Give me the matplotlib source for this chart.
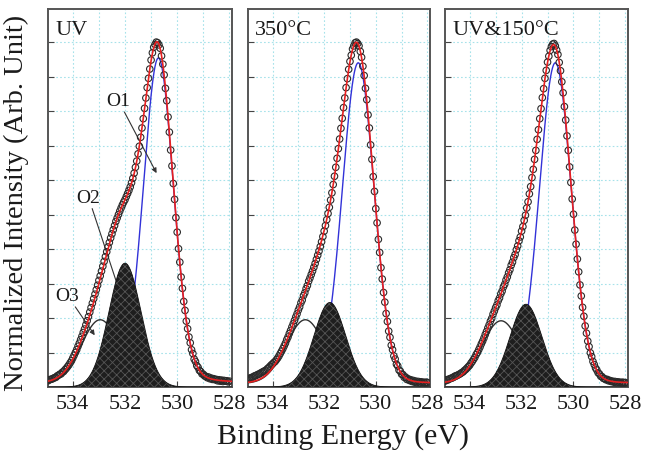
import numpy as np
import matplotlib
matplotlib.use('Agg')
import matplotlib.pyplot as plt

plt.rcParams['font.family'] = ['Liberation Serif', 'DejaVu Serif']
plt.rcParams['hatch.linewidth'] = 0.6

# O 1s binding energies of the scan (eV)
energy = [
    535.00, 534.95, 534.90, 534.85, 534.80, 534.75, 534.70, 534.65, 534.60, 534.55,
    534.50, 534.45, 534.40, 534.35, 534.30, 534.25, 534.20, 534.15, 534.10, 534.05,
    534.00, 533.95, 533.90, 533.85, 533.80, 533.75, 533.70, 533.65, 533.60, 533.55,
    533.50, 533.45, 533.40, 533.35, 533.30, 533.25, 533.20, 533.15, 533.10, 533.05,
    533.00, 532.95, 532.90, 532.85, 532.80, 532.75, 532.70, 532.65, 532.60, 532.55,
    532.50, 532.45, 532.40, 532.35, 532.30, 532.25, 532.20, 532.15, 532.10, 532.05,
    532.00, 531.95, 531.90, 531.85, 531.80, 531.75, 531.70, 531.65, 531.60, 531.55,
    531.50, 531.45, 531.40, 531.35, 531.30, 531.25, 531.20, 531.15, 531.10, 531.05,
    531.00, 530.95, 530.90, 530.85, 530.80, 530.75, 530.70, 530.65, 530.60, 530.55,
    530.50, 530.45, 530.40, 530.35, 530.30, 530.25, 530.20, 530.15, 530.10, 530.05,
    530.00, 529.95, 529.90, 529.85, 529.80, 529.75, 529.70, 529.65, 529.60, 529.55,
    529.50, 529.45, 529.40, 529.35, 529.30, 529.25, 529.20, 529.15, 529.10, 529.05,
    529.00, 528.95, 528.90, 528.85, 528.80, 528.75, 528.70, 528.65, 528.60, 528.55,
    528.50, 528.45, 528.40, 528.35, 528.30, 528.25, 528.20, 528.15, 528.10, 528.05,
    528.00,
]

# normalized intensities (x 1000)
counts_uv = [
    19, 18, 21, 22, 23, 25, 27, 28, 32, 34,
    37, 38, 43, 45, 50, 54, 59, 64, 70, 76,
    84, 92, 100, 108, 118, 127, 137, 147, 158, 168,
    180, 192, 204, 217, 230, 243, 256, 269, 282, 295,
    309, 322, 336, 350, 364, 378, 392, 406, 419, 432,
    444, 456, 468, 480, 490, 500, 510, 519, 528, 536,
    543, 552, 561, 570, 580, 592, 605, 620, 637, 655,
    676, 698, 724, 751, 778, 808, 838, 868, 895, 922,
    948, 969, 985, 993, 1000, 998, 992, 982, 960, 936,
    905, 866, 830, 783, 739, 687, 641, 590, 544, 491,
    449, 401, 362, 319, 286, 248, 222, 191, 169, 145,
    128, 108, 97, 81, 74, 62, 57, 48, 45, 38,
    37, 32, 31, 27, 29, 24, 26, 22, 24, 21,
    22, 18, 21, 17, 20, 16, 19, 17, 18, 15,
    17,
]
counts_350 = [
    22, 23, 25, 26, 28, 29, 32, 33, 35, 37,
    38, 41, 43, 45, 47, 49, 53, 56, 60, 64,
    67, 71, 74, 79, 84, 90, 97, 104, 111, 119,
    127, 137, 145, 155, 164, 174, 183, 193, 203, 212,
    223, 232, 244, 252, 265, 273, 285, 294, 307, 316,
    326, 336, 347, 358, 370, 382, 394, 407, 421, 436,
    452, 468, 485, 503, 521, 542, 563, 587, 611, 637,
    663, 691, 719, 750, 779, 810, 838, 868, 894, 921,
    944, 962, 980, 989, 998, 1000, 996, 989, 973, 956,
    930, 903, 866, 833, 789, 751, 702, 660, 610, 567,
    517, 476, 428, 390, 346, 313, 274, 246, 213, 190,
    162, 144, 121, 108, 90, 81, 66, 61, 49, 46,
    37, 36, 28, 29, 22, 24, 19, 21, 16, 19,
    14, 17, 13, 16, 12, 15, 13, 14, 12, 14,
    13,
]
counts_uv150 = [
    18, 17, 21, 20, 23, 24, 26, 27, 30, 32,
    33, 35, 37, 39, 42, 44, 48, 51, 55, 59,
    63, 69, 74, 80, 86, 94, 100, 108, 116, 125,
    133, 142, 152, 161, 171, 180, 191, 199, 211, 220,
    230, 238, 250, 258, 270, 278, 290, 298, 310, 319,
    331, 340, 353, 362, 375, 384, 398, 409, 424, 435,
    452, 465, 483, 498, 519, 537, 560, 581, 607, 631,
    660, 686, 718, 746, 778, 807, 839, 865, 895, 918,
    942, 959, 976, 987, 994, 996, 989, 977, 964, 941,
    917, 885, 853, 813, 774, 728, 686, 638, 593, 545,
    501, 455, 414, 371, 334, 296, 264, 231, 205, 177,
    156, 133, 117, 99, 88, 74, 65, 55, 49, 41,
    38, 31, 30, 25, 24, 21, 22, 18, 19, 16,
    17, 14, 16, 13, 15, 13, 14, 12, 14, 12,
    13,
]

titles = ['UV', '350°C', 'UV&150°C']
spectra = [counts_uv, counts_350, counts_uv150]

# fitted components: centre (eV), height, FWHM (eV), Lorentzian fraction
o1_peaks = [(530.72, 0.944, 1.36, 0.12), (530.68, 0.93, 1.45, 0.05), (530.70, 0.93, 1.45, 0.05)]
o2_peaks = [(532.00, 0.359, 1.45, 0.0), (531.78, 0.245, 1.45, 0.0), (531.83, 0.24, 1.45, 0.0)]
o3_peaks = [(532.95, 0.185, 1.70, 0.0), (532.73, 0.185, 1.75, 0.0), (532.79, 0.182, 1.75, 0.0)]
background = [0.01, 0.01, 0.01]


def pseudo_voigt(x, p):
    c, h, w, m = p
    d = (x - c) / w
    return h * ((1 - m) * np.exp(-4 * np.log(2) * d ** 2) + m / (1 + 4 * d ** 2))


fig = plt.figure(figsize=(6.45, 4.6), dpi=100)
lefts = [48, 248, 445]
widths = [184, 182, 183]
xf = np.linspace(535.0, 527.8, 600)
e = np.array(energy)

for i in range(3):
    ax = fig.add_axes([lefts[i] / 645, 1 - 388 / 460, widths[i] / 645, 378 / 460])
    b = background[i]
    x1 = xf[xf <= 532.4]
    x3 = xf[xf >= 531.6]
    ax.plot(x1, pseudo_voigt(x1, o1_peaks[i]) + b, color='#3232d8', lw=1.0, zorder=3)
    ax.plot(x3, pseudo_voigt(x3, o3_peaks[i]) + b, color='#303030', lw=1.0, zorder=3)
    c2 = pseudo_voigt(xf, o2_peaks[i])
    ax.fill_between(xf, 0, c2, facecolor='#1e1e1e', edgecolor='#555555', hatch='xxxx',
                    lw=0, zorder=4)
    ax.plot(xf, c2, color='#111111', lw=0.6, zorder=4)
    fit = (pseudo_voigt(xf, o1_peaks[i]) + pseudo_voigt(xf, o2_peaks[i])
           + pseudo_voigt(xf, o3_peaks[i]) + b)
    ax.scatter(e, np.array(spectra[i]) / 1000, s=22, facecolors='none',
               edgecolors='#2a2a2a', linewidths=0.8, zorder=5)
    ax.plot(xf, fit, color='#e62020', lw=1.2, zorder=6)

    ax.set_xlim(534.95, 527.9)
    ax.set_ylim(0, 1.096)
    ax.set_xticks([534, 532, 530, 528])
    ax.set_xticklabels(['534', '532', '530', '528'])
    ax.set_xticks([533, 531, 529], minor=True)
    ax.set_yticks(np.arange(1, 11) / 10)
    ax.set_yticklabels([])
    ax.tick_params(axis='both', which='both', direction='in', length=4, width=0.8,
                   colors='#444444', labelcolor='#1a1a1a', labelsize=16, pad=5)
    ax.tick_params(axis='x', which='minor', length=0)
    ax.grid(True, which='both', color='#a6e2ea', ls=(0, (1.5, 2.0)), lw=0.8)
    ax.set_axisbelow(True)
    for s in ax.spines.values():
        s.set_color('#555555')
        s.set_linewidth(1.4)
    ax.text(0.04, 0.97, titles[i], transform=ax.transAxes, ha='left', va='top',
            fontsize=16, color='#1a1a1a')
    if i == 0:
        kw = dict(fontsize=14, color='#1a1a1a', ha='center', va='center',
                  arrowprops=dict(arrowstyle='-|>', color='#333333', lw=0.8,
                                  mutation_scale=7, shrinkA=0, shrinkB=0))
        ax.annotate('O1', xy=(530.79, 0.62), xytext=(532.25, 0.83), **kw)
        ax.annotate('O2', xy=(532.09, 0.25), xytext=(533.4, 0.55), **kw)
        ax.annotate('O3', xy=(533.16, 0.15), xytext=(534.2, 0.265), **kw)

fig.text(16 / 645, 1 - 203 / 460, 'Normalized Intensity (Arb. Unit)', rotation=90,
         ha='center', va='center', fontsize=20.5, color='#1a1a1a')
fig.text(343 / 645, 1 - 437 / 460, 'Binding Energy (eV)', ha='center', va='center',
         fontsize=21.5, color='#1a1a1a')
fig.savefig('out.png', dpi=100)
